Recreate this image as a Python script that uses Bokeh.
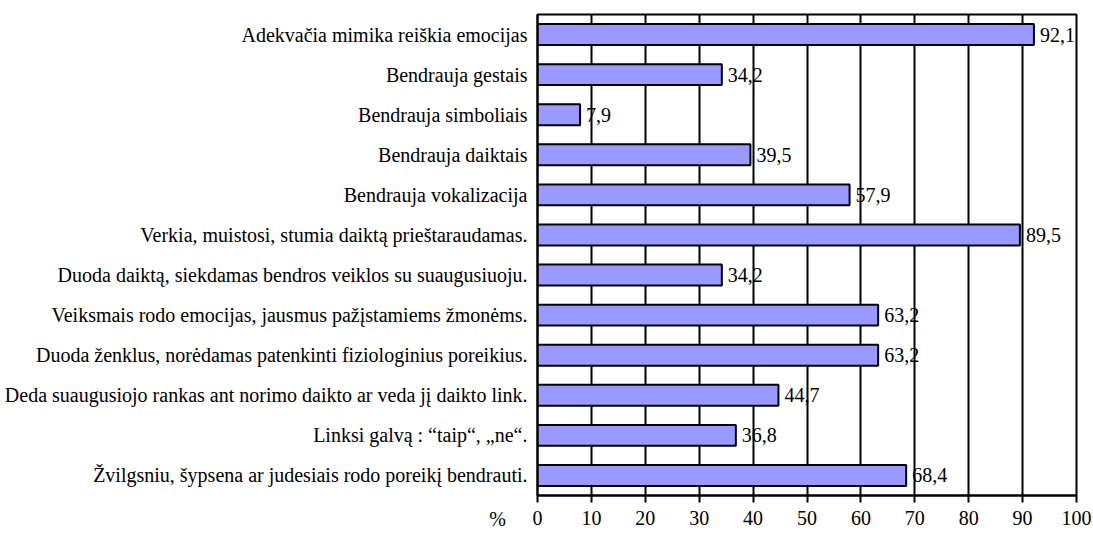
from bokeh.plotting import figure
from bokeh.models import Range1d, FixedTicker, Label, ColumnDataSource
from bokeh.core.properties import value
from bokeh.embed import file_html
from bokeh.resources import INLINE

categories = [
    "Adekvačia mimika reiškia emocijas",
    "Bendrauja gestais",
    "Bendrauja simboliais",
    "Bendrauja daiktais",
    "Bendrauja vokalizacija",
    "Verkia, muistosi, stumia daiktą prieštaraudamas.",
    "Duoda daiktą, siekdamas bendros veiklos su suaugusiuoju.",
    "Veiksmais rodo emocijas, jausmus pažįstamiems žmonėms.",
    "Duoda ženklus, norėdamas patenkinti fiziologinius poreikius.",
    "Deda suaugusiojo rankas ant norimo daikto ar veda jį daikto link.",
    "Linksi galvą : “taip“, „ne“.",
    "Žvilgsniu, šypsena ar judesiais rodo poreikį bendrauti.",
]
values = [92.1, 34.2, 7.9, 39.5, 57.9, 89.5, 34.2, 63.2, 63.2, 44.7, 36.8, 68.4]
x_ticks = [0, 10, 20, 30, 40, 50, 60, 70, 80, 90, 100]
unit_label = "%"

FONT = "Liberation Serif"
FS = "20px"

labels = [f"{v:.1f}".replace(".", ",") for v in values]
src = ColumnDataSource(dict(cat=categories, val=values, lab=labels))

p = figure(
    y_range=list(reversed(categories)),
    x_range=Range1d(0, 100),
    width=1093, height=533,
    output_backend="svg", toolbar_location=None,
    min_border_left=537, min_border_right=17,
    min_border_top=14, min_border_bottom=38,
)

p.hbar(y="cat", right="val", left=0, height=0.52, source=src,
       fill_color="#9999FF", line_color="black", line_width=2)

p.text(x="val", y="cat", text="lab", source=src, x_offset=6,
       text_baseline="middle", text_align="left",
       text_font=value(FONT), text_font_size=FS, text_color="black")

p.xaxis.ticker = FixedTicker(ticks=x_ticks)
p.xaxis.major_label_text_font = FONT
p.xaxis.major_label_text_font_size = FS
p.xaxis.major_label_text_color = "black"
p.xaxis.axis_line_color = "black"
p.xaxis.axis_line_width = 2
p.xaxis.major_tick_line_color = "black"
p.xaxis.major_tick_line_width = 2
p.xaxis.major_tick_out = 7
p.xaxis.major_tick_in = 0
p.xaxis.minor_tick_line_color = None
p.xaxis.major_label_standoff = 8

p.yaxis.major_label_text_font = FONT
p.yaxis.major_label_text_font_size = FS
p.yaxis.major_label_text_color = "black"
p.yaxis.axis_line_color = "black"
p.yaxis.axis_line_width = 2
p.yaxis.major_tick_line_color = None
p.yaxis.minor_tick_line_color = None
p.yaxis.major_label_standoff = 4

p.xgrid.grid_line_color = "black"
p.xgrid.grid_line_width = 2
p.ygrid.grid_line_color = None

p.outline_line_color = "black"
p.outline_line_width = 2
p.background_fill_color = "white"
p.border_fill_color = "white"

# "%" unit label left of the x tick labels; placed in a side panel so it is not clipped by the frame
p.add_layout(Label(x=-7.4, y=-23, x_units="data", y_units="screen", text=unit_label,
                   text_font=FONT, text_font_size=FS, text_color="black",
                   text_align="center", text_baseline="middle"), "right")

open("out.html", "w").write(file_html(p, INLINE))
